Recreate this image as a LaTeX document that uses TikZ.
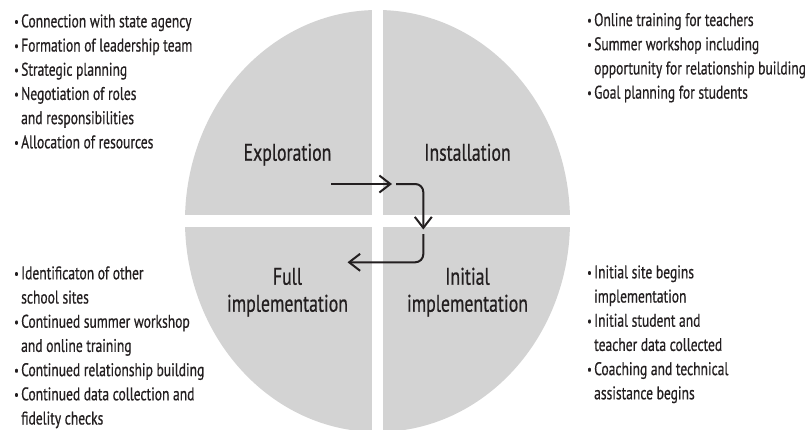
\documentclass[tikz,border=0pt]{standalone}
\usepackage{fontspec}
\setmainfont{PT Sans}[FakeStretch=0.74,UprightFeatures={FakeBold=0.6}]
\usetikzlibrary{calc,arrows.meta}
\definecolor{quad}{RGB}{211,211,211}
\definecolor{ink}{RGB}{35,31,32}
\newcommand\bl{\makebox[7pt][l]{\raisebox{1pt}{\scalebox{.75}{\textbullet}}}}
\newcommand\ind{\hspace*{7pt}}

\begin{document}
\begin{tikzpicture}[x=1pt,y=-1pt,
		phase/.style={font=\fontsize{24}{27}\selectfont,align=center,anchor=base,inner sep=0pt,text=ink},
		notes/.style={font=\fontsize{18.3}{24.2}\selectfont,align=left,anchor=base west,inner sep=0pt,text=ink},
		flow/.style={line width=2pt,draw=ink,rounded corners=8pt,-{Straight Barb[length=11pt,width=17pt]}}]
		\useasboundingbox (0,0) rectangle (807,429);
		\clip (0,0) rectangle (807,429);
		\coordinate (0) at (377.5,221);
		\fill [quad] (0) ellipse [x radius=192.5, y radius=211];
		\fill [white] ($(0)+(-5.25,-220)$) rectangle ($(0)+(5.25,220)$);
		\fill [white] ($(0)+(-200,-6)$) rectangle ($(0)+(200,6)$);
		% phase names, base = last line
		\node [phase] (1) at ($(0)+(-90,-60.3)$) {Exploration};
		\node [phase] (2) at ($(0)+(90,-60.3)$) {Installation};
		\node [phase] (3) at ($(0)+(90,90.7)$) {Initial\\implementation};
		\node [phase] (4) at ($(0)+(-90,90.7)$) {Full\\implementation};
		\coordinate (a) at ($(0)+(-46.5,-37)$);
		\coordinate (b) at ($(0)+(14.5,-37)$);
		\coordinate (c) at ($(0)+(18.5,-37)$);
		\coordinate (d) at ($(0)+(45.8,8.5)$);
		\coordinate (e) at ($(0)+(45.8,13)$);
		\coordinate (f) at ($(0)+(-30,41.3)$);
		\draw [flow] (a) -- (b);
		\draw [flow] (c) -| (d);
		\draw [flow] (e) |- (f);
		\node [notes] (5) at (14,148.3) {\bl Connection with state agency\\
			\bl Formation of leadership team\\
			\bl Strategic planning\\
			\bl Negotiation of roles\\
			\ind and responsibilities\\
			\bl Allocation of resources};
		\node [notes] (6) at (587,98.6) {\bl Online training for teachers\\
			\bl Summer workshop including\\
			\ind opportunity for relationship building\\
			\bl Goal planning for students};
		\node [notes] (7) at (587,399.3) {\bl Initial site begins\\
			\ind implementation\\
			\bl Initial student and\\
			\ind teacher data collected\\
			\bl Coaching and technical\\
			\ind assistance begins};
		\node [notes] (8) at (14,424.5) {\bl Identificaton of other\\
			\ind school sites\\
			\bl Continued summer workshop\\
			\ind and online training\\
			\bl Continued relationship building\\
			\bl Continued data collection and\\
			\ind fidelity checks};
		\end{tikzpicture}
\end{document}
